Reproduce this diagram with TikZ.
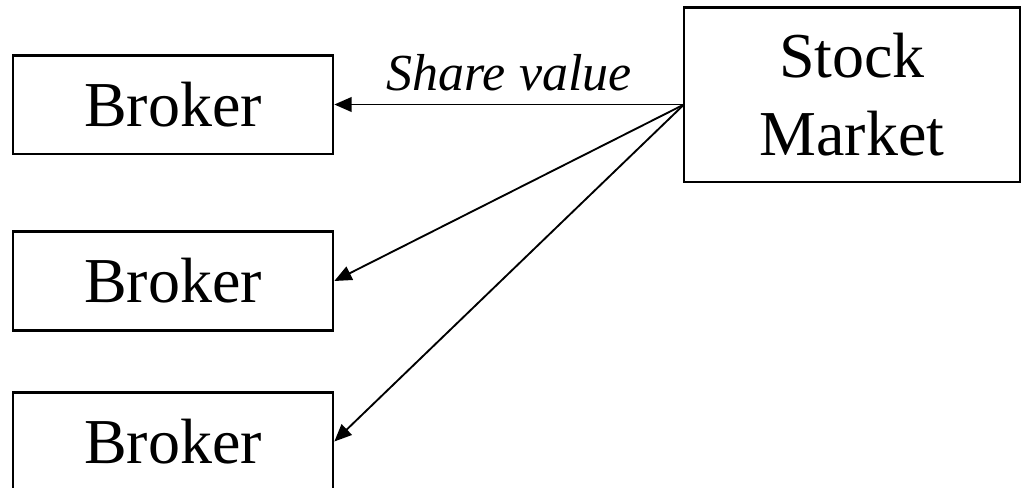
\documentclass[tikz,border=0pt]{standalone}
\usepackage{fontspec}
\setmainfont{Liberation Serif}
\usepackage{tikz}
\usetikzlibrary{positioning, arrows.meta}

\begin{document}
\begin{tikzpicture}[x=0.75pt, y=-0.75pt]
                % Style for the boxes and the feed arrows
                \tikzset{box/.style={draw, line width=2pt, inner sep=0pt, font=\fontsize{48}{58}\selectfont},
                         feed/.style={line width=1.4pt, -{Triangle[length=13pt, width=11pt]}}}
                
                % Frame of the page, the lower box runs off its edge
                \useasboundingbox (0,0) rectangle (1021,487);
                \clip (0,0) rectangle (1021,487);
                
                % Brokers on the left
                \node[box, minimum width=240pt, minimum height=74pt] (broker1) at (173,104.5) {Broker};
                \node[box, minimum width=240pt, minimum height=74pt] (broker2) at (173,281) {Broker};
                \node[box, minimum width=240pt, minimum height=74pt] (broker3) at (173,441.5) {Broker};
                
                % Market on the right
                \node[box, minimum width=252pt, minimum height=131pt, align=center] (market) at (852,94.5) {Stock\\Market};
                
                % Point where the arrows leave the market
                \coordinate (src) at (684,104.5);
                
                % Arrows to each broker
                \draw[feed] (src) -- node[above=6pt, font=\fontsize{39}{46}\selectfont\itshape] {Share value} (broker1.east);
                \draw[feed] (src) -- (broker2.east);
                \draw[feed] (src) -- (broker3.east);
                
            \end{tikzpicture}
\end{document}
